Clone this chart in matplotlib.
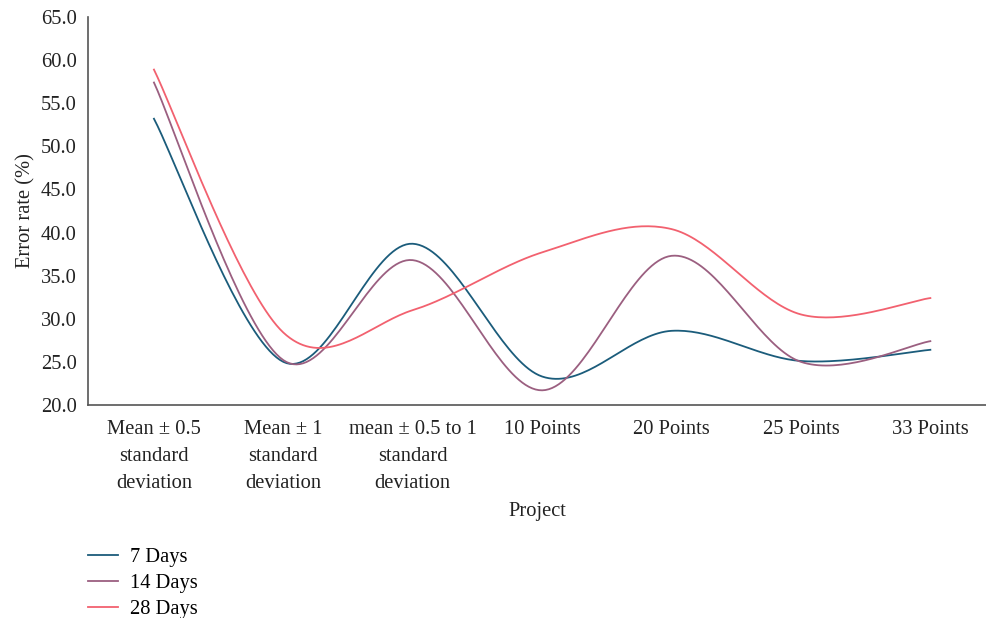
import matplotlib
matplotlib.use("Agg")
import matplotlib.pyplot as plt
import numpy as np

categories = ["Mean \u00b1 0.5\nstandard\ndeviation", "Mean \u00b1 1\nstandard\ndeviation",
              "mean \u00b1 0.5 to 1\nstandard\ndeviation", "10 Points", "20 Points",
              "25 Points", "33 Points"]
days_7 = [53.2, 25.0, 38.7, 23.3, 28.6, 25.1, 26.4]
days_14 = [57.4, 25.2, 36.8, 21.7, 37.3, 25.0, 27.4]
days_28 = [58.9, 28.4, 31.0, 37.7, 40.4, 30.5, 32.4]
series_names = ["7 Days", "14 Days", "28 Days"]
colors = ["#1b5c7b", "#9b5f80", "#f2616f"]
yticks = np.arange(20, 66, 5)

plt.rcParams["font.family"] = ["Liberation Serif", "DejaVu Serif"]
FS = 14.8


def smooth(xs, ys, n=40):
    # excel style smoothed line (catmull-rom through the points)
    px = np.concatenate([[xs[0]], xs, [xs[-1]]])
    py = np.concatenate([[ys[0]], ys, [ys[-1]]])
    out_x, out_y = [], []
    t = np.linspace(0, 1, n)
    for i in range(1, len(px) - 2):
        for p, out in ((px, out_x), (py, out_y)):
            p0, p1, p2, p3 = p[i - 1], p[i], p[i + 1], p[i + 2]
            c1 = p1 + (p2 - p0) / 6
            c2 = p2 - (p3 - p1) / 6
            out.extend((1 - t) ** 3 * p1 + 3 * (1 - t) ** 2 * t * c1
                       + 3 * (1 - t) * t ** 2 * c2 + t ** 3 * p2)
    return out_x, out_y


fig = plt.figure(figsize=(9.86, 6.18), dpi=100)
ax = fig.add_axes([0.0892, 0.3447, 0.9108, 0.6278])

x = np.arange(len(categories), dtype=float)
for vals, name, c in zip([days_7, days_14, days_28], series_names, colors):
    sx, sy = smooth(x, np.array(vals, dtype=float))
    ax.plot(sx, sy, color=c, lw=1.3, label=name)

ax.set_xlim(-0.51, 6.43)
ax.set_ylim(20, 65)
ax.set_yticks(yticks)
ax.set_yticklabels(["%.1f" % v for v in yticks], fontsize=FS, color="#222222")
ax.set_xticks(x)
ax.set_xticklabels(categories, fontsize=FS, color="#222222", linespacing=1.55)
ax.tick_params(length=0, pad=8)
ax.tick_params(axis="x", pad=11)
for s in ["top", "right"]:
    ax.spines[s].set_visible(False)
for s in ["left", "bottom"]:
    ax.spines[s].set_color("#555555")
    ax.spines[s].set_linewidth(1.2)

ax.set_xlabel("Project", fontsize=FS, color="#222222", labelpad=7)
ax.set_ylabel("Error rate (%)", fontsize=FS, color="#222222", labelpad=4)

ax.legend(loc="upper left", bbox_to_anchor=(0, -0.368), frameon=False,
          fontsize=FS, handlelength=1.45, labelspacing=0.33, handletextpad=0.6,
          borderpad=0, borderaxespad=0)

fig.savefig("out.png", dpi=100)
